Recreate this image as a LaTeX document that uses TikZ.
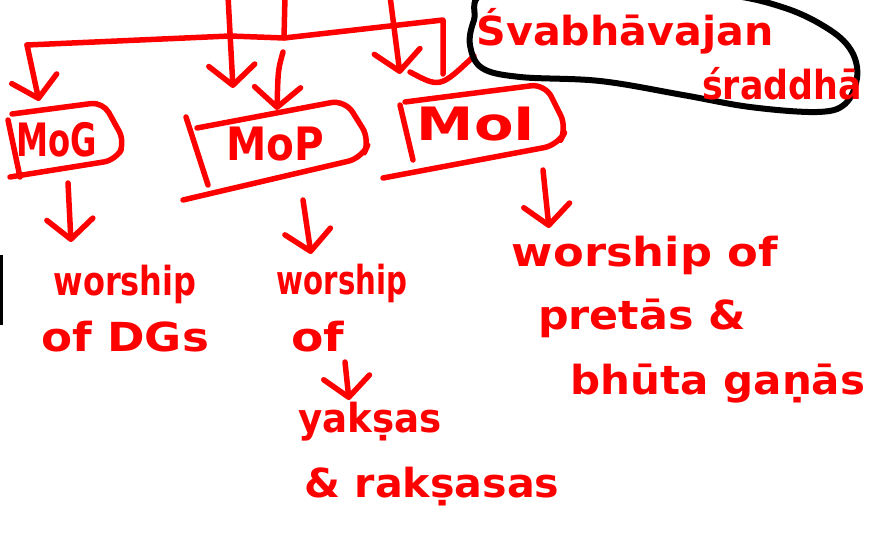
\documentclass[tikz,border=0pt]{standalone}
\usepackage{fontspec}
\setmainfont{DejaVu Sans}
\usetikzlibrary{arrows.meta}
\definecolor{pen}{HTML}{FF0000}
\newcommand{\hw}[2]{\scalebox{#1}[1]{#2}}
\tikzset{
  ink/.style={draw=pen, line width=5.5pt, line cap=round, line join=round},
  arr/.style={ink, -{Straight Barb[length=20pt,width=46pt,line cap=round,line join=round]}},
  word/.style={text=pen, inner sep=0pt, font=\bfseries\fontsize{40}{44}\selectfont},
  big/.style={text=pen, inner sep=0pt, font=\bfseries\fontsize{46}{50}\selectfont},
}
\begin{document}
\begin{tikzpicture}[x=1pt,y=-1pt]
\useasboundingbox (0,0) rectangle (872,534);
\fill[white] (0,0) rectangle (872,534);

% ---------- top connectors ----------
\coordinate (t1) at (228,-4);
\coordinate (h1) at (233,88);
\coordinate (t2) at (285,-4);
\coordinate (j2) at (284,38);
\coordinate (t3) at (390,-4);
\coordinate (h3) at (400,74);
\coordinate (hl) at (27,45);
\coordinate (hm) at (230,36);
\coordinate (hr) at (443,20);
\coordinate (hd) at (443,74);
\coordinate (gA) at (39,101);
\coordinate (p0) at (283,52);
\coordinate (pA) at (277,110);
\coordinate (c0) at (410,72);
\coordinate (c1) at (474,56);

\draw[arr] (t1) -- (h1);
\draw[ink] (t2) -- (j2);
\draw[arr] (t3) -- (h3);
\draw[ink] (hl) -- (hm) -- (j2) -- (hr) -- (hd);
\draw[arr] (hl) -- (gA);
\draw[arr] (p0) .. controls (278,70) .. (pA);
\draw[ink] (c0) .. controls (440,88) .. (c1);

% ---------- boxes ----------
\draw[ink] (8,120) -- (20,177);
\draw[ink, rounded corners=12pt] (12,114) -- (103,102) -- (125,142) -- (116,160) -- (10,177);
\node[big] (mog) at (57,140) {\hw{0.7}{MoG}};

\draw[ink] (186,117) -- (208,185);
\draw[ink, rounded corners=14pt] (197,128) -- (345,100) -- (370,140) -- (362,158) -- (183,200);
\node[big] (mop) at (275,144) {\hw{0.88}{MoP}};

\draw[ink] (400,105) -- (413,160);
\draw[ink, rounded corners=14pt] (405,102) -- (545,84) -- (567,128) -- (558,145) -- (383,178);
\node[big] (moi) at (476,124) {\hw{1.25}{MoI}};

% ---------- ellipse ----------
\draw[black, line width=6pt, line cap=round]
  plot[smooth cycle, tension=0.6] coordinates {
  (488,-8) (474,20) (470,45) (482,68) (520,77) (600,81) (683,95)
  (750,107) (817,112) (845,104) (857,78) (852,52) (830,30)
  (785,8) (720,-6) (600,-12)};
\node[word] (sv1) at (625,31) {\hw{1.03}{Śvabhāvajan}};
\node[word] (sv2) at (782,84) {\hw{0.87}{śraddhā}};

% ---------- lower arrows ----------
\coordinate (g1) at (68,183);
\coordinate (g2) at (71,242);
\coordinate (q1) at (303,200);
\coordinate (q2) at (311,254);
\coordinate (i1) at (543,170);
\coordinate (i2) at (549,228);
\coordinate (o1) at (345,362);
\coordinate (o2) at (349,400);
\draw[arr] (g1) -- (g2);
\draw[arr] (q1) -- (q2);
\draw[arr] (i1) -- (i2);
\draw[arr] (o1) -- (o2);

% ---------- texts ----------
\node[word] (w1) at (125,284) {\hw{0.8}{worship}};
\node[word] (w1b) at (125,337) {\hw{1.13}{of DGs}};
\node[word] (w2) at (342,283) {\hw{0.73}{worship}};
\node[word] (w2b) at (318,337) {\hw{1.18}{of}};
\node[word] (y1) at (370,422) {\hw{0.93}{yakṣas}};
\node[word] (y2) at (432,487) {\hw{1.03}{\& rakṣasas}};
\node[word] (p1) at (645,255) {\hw{1.12}{worship of}};
\node[word] (p2) at (642,318) {\hw{1.07}{pretās \&}};
\node[word] (p3) at (718,384) {\hw{1.05}{bhūta gaṇās}};

% ---------- stray black marks ----------
\draw[black, line width=3pt] (1,255) -- (1,325);
\end{tikzpicture}
\end{document}
